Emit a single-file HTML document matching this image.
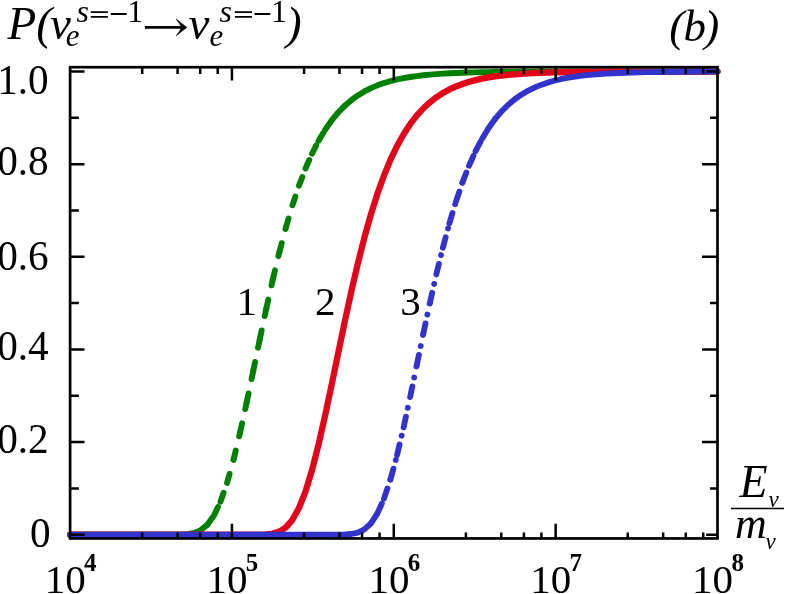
<!DOCTYPE html>
<html><head><meta charset="utf-8"><title>chart</title>
<style>html,body{margin:0;padding:0;background:#fff;}svg{display:block;filter:opacity(0.999);}text{font-family:"Liberation Serif",serif;fill:#000;}</style>
</head><body>
<svg width="789" height="594" viewBox="0 0 789 594">
<rect x="0" y="0" width="789" height="594" fill="#fff"/>
<g fill="none" stroke="#008000" stroke-width="5.9" stroke-linecap="round" stroke-linejoin="round">
<path d="M70.10,534.70 L76.64,534.70 L83.18,534.70 L89.72,534.70 L96.26,534.70 L102.80,534.70 L109.34,534.70 L115.88,534.70 L122.42,534.70 L128.95,534.70 L135.49,534.70 L142.03,534.70 L148.57,534.70 L155.11,534.70 L161.65,534.70 L168.19,534.70 L174.73,534.67 L181.27,534.55 L187.81,534.12 L194.35,532.91 L200.89,530.10 L207.43,524.63"/>
<path d="M344.75,105.80 L351.29,100.16 L357.83,95.42 L364.37,91.45 L370.91,88.12 L377.45,85.34 L383.99,83.02 L390.53,81.09 L397.07,79.47 L403.61,78.13 L410.15,77.01 L416.69,76.08 L423.23,75.30 L429.77,74.66 L436.31,74.13 L442.85,73.68 L449.38,73.31 L455.92,73.00 L462.46,72.75 L469.00,72.54 L475.54,72.36 L482.08,72.22 L488.62,72.09 L495.16,71.99 L501.70,71.91 L508.24,71.84 L514.78,71.78 L521.32,71.73 L527.86,71.69 L534.40,71.66 L540.94,71.63 L547.48,71.61 L554.02,71.59 L560.55,71.58 L567.09,71.56 L573.63,71.55 L580.17,71.54 L586.71,71.54 L593.25,71.53 L599.79,71.53 L606.33,71.52 L612.87,71.52 L619.41,71.51 L625.95,71.51 L632.49,71.51 L639.03,71.51 L645.57,71.51 L652.11,71.51 L658.65,71.50 L665.18,71.50 L671.72,71.50 L678.26,71.50 L684.80,71.50 L691.34,71.50 L697.88,71.50 L704.42,71.50 L710.96,71.50 L717.50,71.50"/>
<g stroke-dasharray="9.3 14.6">
<path d="M207.43,524.63L213.97,515.41"/>
<path d="M213.97,515.41L220.51,501.61"/>
<path d="M220.51,501.61L227.05,482.90"/>
<path d="M227.05,482.90L233.58,459.56"/>
<path d="M233.58,459.56L240.12,432.38"/>
<path d="M240.12,432.38L246.66,402.48"/>
<path d="M246.66,402.48L253.20,371.11"/>
<path d="M253.20,371.11L259.74,339.49"/>
<path d="M259.74,339.49L266.28,308.65"/>
<path d="M266.28,308.65L272.82,279.37"/>
<path d="M272.82,279.37L279.36,252.20"/>
<path d="M279.36,252.20L285.90,227.46"/>
<path d="M285.90,227.46L292.44,205.28"/>
<path d="M292.44,205.28L298.98,185.65"/>
<path d="M298.98,185.65L305.52,168.48"/>
<path d="M305.52,168.48L312.06,153.57"/>
<path d="M312.06,153.57L318.60,140.74"/>
<path d="M318.60,140.74L325.14,129.76"/>
<path d="M325.14,129.76L331.68,120.41"/>
<path d="M331.68,120.41L338.22,112.49"/>
<path d="M338.22,112.49L344.75,105.80"/>
</g></g>
<path d="M70.10,534.70 L76.64,534.70 L83.18,534.70 L89.72,534.70 L96.26,534.70 L102.80,534.70 L109.34,534.70 L115.88,534.70 L122.42,534.70 L128.95,534.70 L135.49,534.70 L142.03,534.70 L148.57,534.70 L155.11,534.70 L161.65,534.70 L168.19,534.70 L174.73,534.70 L181.27,534.70 L187.81,534.70 L194.35,534.70 L200.89,534.70 L207.43,534.70 L213.97,534.70 L220.51,534.70 L227.05,534.70 L233.58,534.70 L240.12,534.70 L246.66,534.70 L253.20,534.69 L259.74,534.62 L266.28,534.37 L272.82,533.56 L279.36,531.55 L285.90,527.35 L292.44,519.84 L298.98,508.06 L305.52,491.44 L312.06,470.00 L318.60,444.32 L325.14,415.42 L331.68,384.53 L338.22,352.88 L344.75,321.59 L351.29,291.57 L357.83,263.45 L364.37,237.65 L370.91,214.38 L377.45,193.68 L383.99,175.48 L390.53,159.63 L397.07,145.95 L403.61,134.21 L410.15,124.20 L416.69,115.69 L423.23,108.50 L429.77,102.43 L436.31,97.33 L442.85,93.05 L449.38,89.46 L455.92,86.46 L462.46,83.96 L469.00,81.87 L475.54,80.12 L482.08,78.67 L488.62,77.46 L495.16,76.45 L501.70,75.62 L508.24,74.92 L514.78,74.34 L521.32,73.86 L527.86,73.46 L534.40,73.13 L540.94,72.85 L547.48,72.62 L554.02,72.43 L560.55,72.27 L567.09,72.14 L573.63,72.03 L580.17,71.94 L586.71,71.87 L593.25,71.81 L599.79,71.75 L606.33,71.71 L612.87,71.67 L619.41,71.65 L625.95,71.62 L632.49,71.60 L639.03,71.58 L645.57,71.57 L652.11,71.56 L658.65,71.55 L665.18,71.54 L671.72,71.53 L678.26,71.53 L684.80,71.52 L691.34,71.52 L697.88,71.52 L704.42,71.51 L710.96,71.51 L717.50,71.51" fill="none" stroke="#e2061a" stroke-width="6.3" stroke-linecap="round" stroke-linejoin="round"/>
<g fill="none" stroke="#3232cd" stroke-width="5.85" stroke-linecap="round" stroke-linejoin="round">
<path d="M70.10,534.70 L76.64,534.70 L83.18,534.70 L89.72,534.70 L96.26,534.70 L102.80,534.70 L109.34,534.70 L115.88,534.70 L122.42,534.70 L128.95,534.70 L135.49,534.70 L142.03,534.70 L148.57,534.70 L155.11,534.70 L161.65,534.70 L168.19,534.70 L174.73,534.70 L181.27,534.70 L187.81,534.70 L194.35,534.70 L200.89,534.70 L207.43,534.70 L213.97,534.70 L220.51,534.70 L227.05,534.70 L233.58,534.70 L240.12,534.70 L246.66,534.70 L253.20,534.70 L259.74,534.70 L266.28,534.70 L272.82,534.70 L279.36,534.70 L285.90,534.70 L292.44,534.70 L298.98,534.70 L305.52,534.70 L312.06,534.70 L318.60,534.70 L325.14,534.70 L331.68,534.69 L338.22,534.66 L344.75,534.51 L351.29,533.99 L357.83,532.56 L364.37,529.36 L370.91,523.31"/>
<path d="M495.16,118.92 L501.70,111.23 L508.24,104.73 L514.78,99.26 L521.32,94.67 L527.86,90.82 L534.40,87.60 L540.94,84.90 L547.48,82.66 L554.02,80.78 L560.55,79.22 L567.09,77.92 L573.63,76.83 L580.17,75.93 L586.71,75.18 L593.25,74.56 L599.79,74.04 L606.33,73.61 L612.87,73.25 L619.41,72.96 L625.95,72.71 L632.49,72.50 L639.03,72.33 L645.57,72.19 L652.11,72.07 L658.65,71.98 L665.18,71.90 L671.72,71.83 L678.26,71.77 L684.80,71.73 L691.34,71.69 L697.88,71.66 L704.42,71.63 L710.96,71.61 L717.50,71.59"/>
<g stroke-dasharray="10.8 9.1 0.01 11.3">
<path d="M370.91,523.31L377.45,513.33"/>
<path d="M377.45,513.33L383.99,498.68"/>
<path d="M383.99,498.68L390.53,479.12"/>
<path d="M390.53,479.12L397.07,455.04"/>
<path d="M397.07,455.04L403.61,427.29"/>
<path d="M403.61,427.29L410.15,397.03"/>
<path d="M410.15,397.03L416.69,365.54"/>
<path d="M416.69,365.54L423.23,333.99"/>
<path d="M423.23,333.99L429.77,303.37"/>
<path d="M429.77,303.37L436.31,274.43"/>
<path d="M436.31,274.43L442.85,247.67"/>
<path d="M442.85,247.67L449.38,223.37"/>
<path d="M449.38,223.37L455.92,201.65"/>
<path d="M455.92,201.65L462.46,182.46"/>
<path d="M462.46,182.46L469.00,165.70"/>
<path d="M469.00,165.70L475.54,151.18"/>
<path d="M475.54,151.18L482.08,138.69"/>
<path d="M482.08,138.69L488.62,128.01"/>
<path d="M488.62,128.01L495.16,118.92"/>
</g></g>
<g stroke="#000" fill="none">
<rect x="70.1" y="67.2" width="647.4" height="471.25000000000006" stroke-width="2.7"/>
<g stroke-width="2.5">
<path d="M142.20,538.45V532.45M142.20,67.2V74.0"/>
<path d="M177.60,538.45V532.45M177.60,67.2V74.0"/>
<path d="M200.20,538.45V532.45M200.20,67.2V74.0"/>
<path d="M217.70,538.45V532.45M217.70,67.2V74.0"/>
<path d="M231.95,538.45V523.6500000000001M231.95,67.2V80.60000000000001"/>
<path d="M304.05,538.45V532.45M304.05,67.2V74.0"/>
<path d="M339.45,538.45V532.45M339.45,67.2V74.0"/>
<path d="M362.05,538.45V532.45M362.05,67.2V74.0"/>
<path d="M379.55,538.45V532.45M379.55,67.2V74.0"/>
<path d="M393.80,538.45V523.6500000000001M393.80,67.2V80.60000000000001"/>
<path d="M465.90,538.45V532.45M465.90,67.2V74.0"/>
<path d="M501.30,538.45V532.45M501.30,67.2V74.0"/>
<path d="M523.90,538.45V532.45M523.90,67.2V74.0"/>
<path d="M541.40,538.45V532.45M541.40,67.2V74.0"/>
<path d="M555.65,538.45V523.6500000000001M555.65,67.2V80.60000000000001"/>
<path d="M627.75,538.45V532.45M627.75,67.2V74.0"/>
<path d="M663.15,538.45V532.45M663.15,67.2V74.0"/>
<path d="M685.75,538.45V532.45M685.75,67.2V74.0"/>
<path d="M703.25,538.45V532.45M703.25,67.2V74.0"/>
<path d="M70.1,534.70H84.5M717.5,534.70H706.2"/>
<path d="M70.1,488.38H78.89999999999999M717.5,488.38H710.1"/>
<path d="M70.1,442.06H84.5M717.5,442.06H702.0"/>
<path d="M70.1,395.74H78.89999999999999M717.5,395.74H710.1"/>
<path d="M70.1,349.42H84.5M717.5,349.42H702.0"/>
<path d="M70.1,303.10H78.89999999999999M717.5,303.10H710.1"/>
<path d="M70.1,256.78H84.5M717.5,256.78H702.0"/>
<path d="M70.1,210.46H78.89999999999999M717.5,210.46H710.1"/>
<path d="M70.1,164.14H84.5M717.5,164.14H702.0"/>
<path d="M70.1,117.82H78.89999999999999M717.5,117.82H710.1"/>
<path d="M70.1,71.50H84.5M717.5,71.50H706.2"/>
</g></g>
<text x="48.6" y="94.3" font-size="41.2" text-anchor="end">1.0</text>
<text x="48.6" y="175.3" font-size="41.2" text-anchor="end">0.8</text>
<text x="48.6" y="270.3" font-size="41.2" text-anchor="end">0.6</text>
<text x="48.6" y="360.3" font-size="41.2" text-anchor="end">0.4</text>
<text x="48.6" y="453.3" font-size="41.2" text-anchor="end">0.2</text>
<text x="50.6" y="547.3" font-size="41.2" text-anchor="end">0</text>
<text x="44.7" y="593.3" font-size="41">10</text>
<text x="84.0" y="570.8" font-size="25" font-weight="bold">4</text>
<text x="206.5" y="593.3" font-size="41">10</text>
<text x="245.8" y="570.8" font-size="25" font-weight="bold">5</text>
<text x="368.4" y="593.3" font-size="41">10</text>
<text x="407.7" y="570.8" font-size="25" font-weight="bold">6</text>
<text x="530.2" y="593.3" font-size="41">10</text>
<text x="569.5" y="570.8" font-size="25" font-weight="bold">7</text>
<text x="692.1" y="593.3" font-size="41">10</text>
<text x="731.4" y="570.8" font-size="25" font-weight="bold">8</text>
<text x="236.5" y="315.4" font-size="41">1</text>
<text x="315.0" y="315.4" font-size="41">2</text>
<text x="400.2" y="315.4" font-size="41">3</text>
<text x="7.5" y="39.4" font-size="47" font-style="italic">P</text>
<text x="36.2" y="39.4" font-size="47" font-style="italic">(</text>
<text x="50" y="39.4" font-size="47" font-style="italic">ν</text>
<text x="65.7" y="46.2" font-size="31" font-style="italic">e</text>
<text x="76.4" y="21.6" font-size="32" font-style="italic">s</text>
<text x="127.3" y="21.6" font-size="32">1</text>
<text x="188.6" y="39.4" font-size="47" font-style="italic">ν</text>
<text x="209.6" y="46.2" font-size="31" font-style="italic">e</text>
<text x="219.6" y="21.6" font-size="32" font-style="italic">s</text>
<text x="271" y="21.6" font-size="32">1</text>
<text x="286" y="39.4" font-size="47" font-style="italic">)</text>
<g stroke="#000" stroke-width="1.8" fill="none">
<path d="M90.8,12.1H107.9M90.8,16.9H107.9M110.8,14.0H126.7"/>
<path d="M234.9,12.1H252M234.9,16.9H252M254.5,14.0H270.3"/>
</g>
<path d="M144.9,27.42H182" stroke="#000" stroke-width="2.9" fill="none"/>
<path d="M176.2,19.0Q181.8,23.6 186.9,27.42Q181.8,31.2 176.2,35.85Q178.8,32.2 180.9,28.97L180.9,25.87Q178.8,22.6 176.2,19.0Z" fill="#000" stroke="#000" stroke-width="0.6" stroke-linejoin="round"/>
<text x="669.3" y="40.7" font-size="45" font-style="italic">(</text>
<text x="683.4" y="40.7" font-size="45" font-style="italic">b</text>
<text x="704.3" y="40.7" font-size="45" font-style="italic">)</text>
<text x="739.5" y="496.9" font-size="46" font-style="italic">E</text>
<text x="768.5" y="507.2" font-size="23" font-style="italic">ν</text>
<path d="M731,508.4H784" stroke="#000" stroke-width="1.5"/>
<text x="735" y="538.2" font-size="44" font-style="italic">m</text>
<text x="765.5" y="549.3" font-size="23" font-style="italic">ν</text>
</svg></body></html>
